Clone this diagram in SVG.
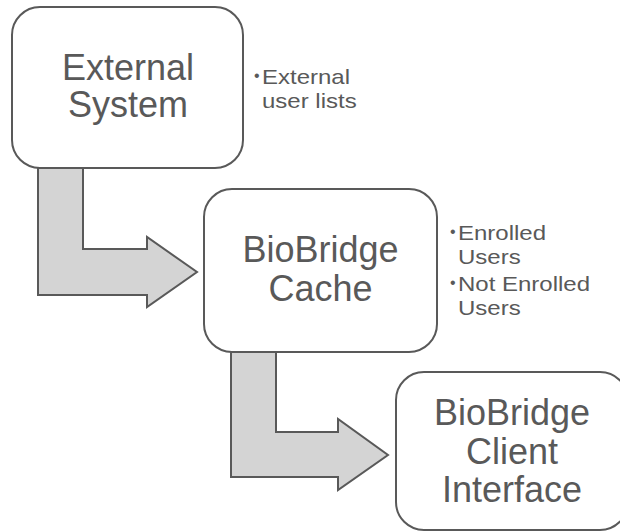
<svg xmlns="http://www.w3.org/2000/svg" width="620" height="532" viewBox="0 0 620 532">
<style>
.box{fill:#ffffff;stroke:#595959;stroke-width:2}
.arrow{fill:#d4d4d4;stroke:#595959;stroke-width:2;stroke-linejoin:miter}
.big{font-family:"Liberation Sans",Arial,sans-serif;font-size:36px;fill:#595959;text-anchor:middle}
.small{font-family:"Liberation Sans",Arial,sans-serif;font-size:21px;fill:#595959}
.bul{font-family:"Liberation Sans",Arial,sans-serif;font-size:16px;fill:#595959}
</style>
<rect width="620" height="532" fill="#ffffff"/>
<g id="connectors">
<polygon class="arrow" points="38,168 83,168 83,249 147,249 147,237 197,272 147,307 147,295 38,295"/>
<polygon class="arrow" points="231,352 276,352 276,432 338,432 338,419 388,455 338,490 338,477 231,477"/>
</g>
<g id="external-system">
<rect class="box" x="12" y="7" width="231" height="161" rx="28" ry="28"/>
<text class="big" x="128" y="80">External</text>
<text class="big" x="128" y="117">System</text>
</g>
<g id="external-notes">
<text class="bul" x="254" y="81">•</text>
<g transform="translate(262,0) scale(1.143,1)">
<text class="small" x="0" y="84">External</text>
<text class="small" x="0" y="108">user lists</text>
</g>
</g>
<g id="biobridge-cache">
<rect class="box" x="204" y="189" width="233" height="163" rx="28" ry="28"/>
<text class="big" x="320.5" y="262">BioBridge</text>
<text class="big" x="320.5" y="301">Cache</text>
</g>
<g id="cache-notes">
<text class="bul" x="450" y="237">•</text>
<text class="bul" x="450" y="288">•</text>
<g transform="translate(458,0) scale(1.143,1)">
<text class="small" x="0" y="240">Enrolled</text>
<text class="small" x="0" y="264">Users</text>
<text class="small" x="0" y="291">Not Enrolled</text>
<text class="small" x="0" y="315">Users</text>
</g>
</g>
<g id="biobridge-client">
<rect class="box" x="396" y="372" width="232" height="158" rx="28" ry="28"/>
<text class="big" x="512" y="425">BioBridge</text>
<text class="big" x="512" y="464">Client</text>
<text class="big" x="512" y="502">Interface</text>
</g>
</svg>
